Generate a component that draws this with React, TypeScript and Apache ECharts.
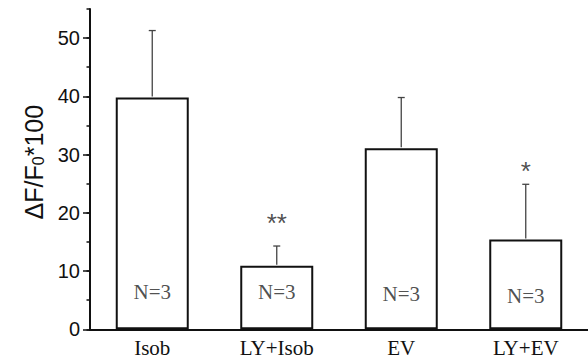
import React, { useEffect, useRef } from "react";
import * as echarts from "echarts";

const categories = ["Isob", "LY+Isob", "EV", "LY+EV"];
const means = [39.8, 10.9, 31.1, 15.4];
const errors = [11.5, 3.4, 8.7, 9.5];
const sampleLabels = ["N=3", "N=3", "N=3", "N=3"];
const sampleLabelY = [6.45, 6.45, 6.06, 5.72];
const sigMarks = ["", "**", "", "*"];
const sigY: (number | null)[] = [null, 18.2, null, 27.1];

const SANS = "Liberation Sans, Arial, sans-serif";
const SERIF = "Liberation Serif, Times New Roman, serif";

export default function App() {
  const ref = useRef<HTMLDivElement>(null);
  useEffect(() => {
    if (!ref.current) return;
    const chart = echarts.init(ref.current, undefined, { renderer: "svg" });
    const errData = means.map((m, i) => [i, m, errors[i]]);
    const nData = sampleLabelY.map((y, i) => [i, y]);
    const sigData = sigY
      .map((y, i) => (y === null ? null : { value: [i, y], idx: i }))
      .filter((d) => d !== null) as { value: number[]; idx: number }[];
    chart.setOption({
      animation: false,
      grid: { left: 90, right: 0, top: 9, bottom: 31.7, containLabel: false },
      xAxis: {
        type: "category",
        data: categories,
        axisLine: { show: true, lineStyle: { color: "#111", width: 2 } },
        axisTick: { show: false },
        axisLabel: { fontFamily: SERIF, fontSize: 21, color: "#111", margin: 8 },
      },
      yAxis: [
        {
          type: "value",
          min: 0,
          max: 55,
          interval: 10,
          position: "left",
          name: "{m|ΔF/F}{s|0}{m|*100}",
          nameLocation: "middle",
          nameGap: 41,
          nameTextStyle: {
            padding: [0, 0, 0, 14],
            rich: {
              m: { fontSize: 25, fontFamily: SANS, color: "#111" },
              s: { fontSize: 16, fontFamily: SANS, color: "#111", verticalAlign: "bottom", padding: [10, 0, 0, 0] },
            },
          },
          axisLine: { show: true, lineStyle: { color: "#111", width: 2 } },
          axisTick: { show: true, length: 7, lineStyle: { color: "#111", width: 1.5 } },
          axisLabel: { fontFamily: SANS, fontSize: 20, color: "#111", margin: 10, showMaxLabel: false },
          splitLine: { show: false },
        },
        {
          type: "value",
          min: 0,
          max: 55,
          interval: 5,
          position: "left",
          offset: 0,
          axisLine: { show: false },
          axisTick: { show: true, length: 3.5, lineStyle: { color: "#111", width: 1.5 } },
          axisLabel: { show: false },
          splitLine: { show: false },
        },
      ],
      series: [
        {
          type: "bar",
          data: means,
          barWidth: 73,
          itemStyle: { color: "#fff", borderColor: "#111", borderWidth: 2 },
          z: 2,
        },
        {
          type: "custom",
          data: errData,
          z: 3,
          renderItem: (params: any, api: any) => {
            const x = api.value(0);
            const m = api.value(1);
            const e = api.value(2);
            const base = api.coord([x, m]);
            const top = api.coord([x, m + e]);
            const cap = 3.5;
            const st = { stroke: "#444", lineWidth: 1.3 };
            return {
              type: "group",
              children: [
                { type: "line", shape: { x1: top[0], y1: base[1] - 1, x2: top[0], y2: top[1] }, style: st },
                { type: "line", shape: { x1: top[0] - cap, y1: top[1], x2: top[0] + cap, y2: top[1] }, style: st },
              ],
            };
          },
        },
        {
          type: "scatter",
          data: nData,
          symbolSize: 0,
          z: 4,
          label: {
            show: true,
            position: "inside",
            formatter: (p: any) => sampleLabels[p.dataIndex],
            fontFamily: SERIF,
            fontSize: 21,
            color: "#222",
          },
        },
        {
          type: "scatter",
          data: sigData.map((d) => d.value),
          symbolSize: 0,
          z: 4,
          label: {
            show: true,
            position: "inside",
            formatter: (p: any) => sigMarks[sigData[p.dataIndex].idx],
            fontFamily: SANS,
            fontSize: 26,
            color: "#222",
          },
        },
      ],
    });
    return () => chart.dispose();
  }, []);
  return (
    <div
      ref={ref}
      style={{ position: "fixed", left: 0, top: 0, width: 588, height: 361, background: "#fff" }}
    />
  );
}
